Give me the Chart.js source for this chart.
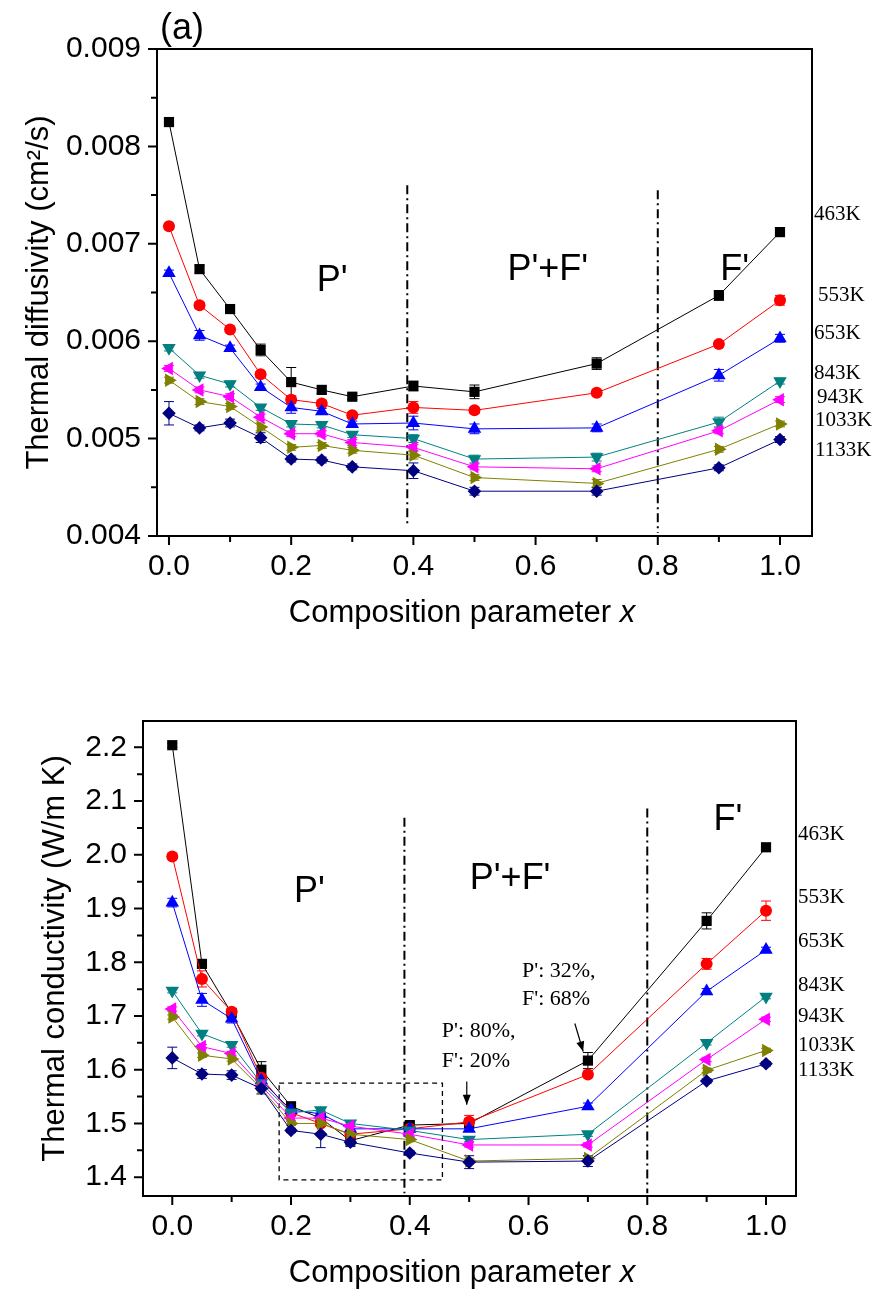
<!DOCTYPE html>
<html><head><meta charset="utf-8">
<script src="https://cdn.jsdelivr.net/npm/chart.js@4.4.0/dist/chart.umd.min.js"></script>
<style>
html,body{margin:0;padding:0;background:#fff;width:877px;height:1304px;overflow:hidden}
#wa{position:absolute;left:0;top:0;width:877px;height:660px}
#wb{position:absolute;left:0;top:660px;width:877px;height:644px}
canvas{display:block}
</style></head><body>
<div id="wa"><canvas id="ca"></canvas></div>
<div id="wb"><canvas id="cb"></canvas></div>
<script>
// ---------- data ----------
const compositionX = [0, 0.05, 0.1, 0.15, 0.2, 0.25, 0.3, 0.4, 0.5, 0.7, 0.9, 1.0];
const temperatures = ['463K', '553K', '653K', '843K', '943K', '1033K', '1133K'];

// (a) thermal diffusivity, cm^2/s
const diff463 = [0.00825, 0.00674, 0.00633, 0.00591, 0.00558, 0.00550, 0.00543, 0.00554, 0.00548, 0.00577, 0.00647, 0.00712];
const diff553 = [0.00718, 0.00637, 0.00612, 0.00566, 0.00540, 0.00536, 0.00524, 0.00532, 0.00529, 0.00547, 0.00597, 0.00642];
const diff653 = [0.00670, 0.00606, 0.00593, 0.00553, 0.00532, 0.00528, 0.00515, 0.00516, 0.00510, 0.00511, 0.00565, 0.00603];
const diff843 = [0.00593, 0.00565, 0.00556, 0.00532, 0.00515, 0.00514, 0.00504, 0.00500, 0.00479, 0.00481, 0.00517, 0.00559];
const diff943 = [0.00572, 0.00550, 0.00543, 0.00522, 0.00505, 0.00505, 0.00496, 0.00491, 0.00471, 0.00469, 0.00508, 0.00540];
const diff1033 = [0.00560, 0.00538, 0.00533, 0.00512, 0.00491, 0.00493, 0.00488, 0.00483, 0.00460, 0.00454, 0.00489, 0.00515];
const diff1133 = [0.00526, 0.00511, 0.00516, 0.00501, 0.00479, 0.00478, 0.00471, 0.00467, 0.00446, 0.00446, 0.00470, 0.00499];
const diffErr463 = [0.00003, 0.00004, 0.00004, 0.00006, 0.00015, 0.00004, 0.00003, 0.00005, 0.00007, 0.00006, 0.00005, 0.00004];
const diffErr553 = [0.00003, 0.00003, 0.00003, 0.00003, 0.00004, 0.00003, 0.00003, 0.00006, 0.00003, 0.00003, 0.00003, 0.00005];
const diffErr653 = [0.00003, 0.00005, 0.00003, 0.00003, 0.00006, 0.00003, 0.00003, 0.00007, 0.00005, 0.00004, 0.00006, 0.00004];
const diffErr843 = [0.00003, 0.00003, 0.00003, 0.00003, 0.00003, 0.00003, 0.00003, 0.00004, 0.00004, 0.00004, 0.00005, 0.00003];
const diffErr943 = [0.00003, 0.00003, 0.00003, 0.00003, 0.00003, 0.00003, 0.00003, 0.00003, 0.00003, 0.00003, 0.00003, 0.00003];
const diffErr1033 = [0.00003, 0.00003, 0.00003, 0.00004, 0.00003, 0.00003, 0.00003, 0.00004, 0.00003, 0.00004, 0.00003, 0.00003];
const diffErr1133 = [0.00012, 0.00003, 0.00004, 0.00005, 0.00003, 0.00003, 0.00003, 0.00008, 0.00004, 0.00004, 0.00003, 0.00003];

// (b) thermal conductivity, W/m K
const cond463 = [2.204, 1.797, 1.705, 1.600, 1.532, 1.510, 1.468, 1.497, 1.500, 1.617, 1.877, 2.014];
const cond553 = [1.997, 1.769, 1.708, 1.585, 1.520, 1.500, 1.480, 1.490, 1.503, 1.591, 1.797, 1.896];
const cond653 = [1.911, 1.730, 1.695, 1.580, 1.525, 1.518, 1.490, 1.490, 1.490, 1.532, 1.746, 1.823];
const cond843 = [1.747, 1.667, 1.646, 1.575, 1.520, 1.525, 1.500, 1.487, 1.470, 1.480, 1.650, 1.736];
const cond943 = [1.713, 1.643, 1.630, 1.570, 1.510, 1.510, 1.495, 1.480, 1.460, 1.460, 1.619, 1.694];
const cond1033 = [1.698, 1.627, 1.620, 1.565, 1.500, 1.500, 1.480, 1.470, 1.430, 1.435, 1.599, 1.636];
const cond1133 = [1.622, 1.592, 1.590, 1.565, 1.487, 1.480, 1.465, 1.445, 1.428, 1.430, 1.579, 1.611];
const condErr463 = [0.004, 0.006, 0.005, 0.015, 0.006, 0.005, 0.005, 0.006, 0.006, 0.015, 0.015, 0.005];
const condErr553 = [0.004, 0.015, 0.005, 0.005, 0.005, 0.005, 0.005, 0.005, 0.012, 0.005, 0.010, 0.018];
const condErr653 = [0.008, 0.012, 0.008, 0.005, 0.005, 0.005, 0.005, 0.005, 0.005, 0.006, 0.005, 0.005];
const condErr843 = [0.004, 0.004, 0.004, 0.004, 0.004, 0.004, 0.004, 0.004, 0.004, 0.004, 0.004, 0.004];
const condErr943 = [0.004, 0.004, 0.004, 0.004, 0.004, 0.004, 0.004, 0.004, 0.004, 0.004, 0.004, 0.004];
const condErr1033 = [0.004, 0.004, 0.004, 0.004, 0.004, 0.004, 0.004, 0.004, 0.004, 0.004, 0.004, 0.004];
const condErr1133 = [0.020, 0.008, 0.008, 0.010, 0.004, 0.025, 0.008, 0.004, 0.012, 0.010, 0.004, 0.004];

// tick values
const xTickValues = [0, 0.1, 0.2, 0.3, 0.4, 0.5, 0.6, 0.7, 0.8, 0.9, 1.0];
const diffTickValues = [0.004, 0.0045, 0.005, 0.0055, 0.006, 0.0065, 0.007, 0.0075, 0.008, 0.0085, 0.009];
const condTickValues = [1.4, 1.45, 1.5, 1.55, 1.6, 1.65, 1.7, 1.75, 1.8, 1.85, 1.9, 1.95, 2.0, 2.05, 2.1, 2.15, 2.2];

// right-side temperature label levels
const diffLabelLevels = [0.00730, 0.00647, 0.00608, 0.00567, 0.00542, 0.00519, 0.00488];
const condLabelLevels = [2.038, 1.921, 1.839, 1.756, 1.699, 1.645, 1.599];

// phase boundaries
const boundaryX = [0.39, 0.80];

// ---------- styles ----------
const seriesColors = ['#000000', '#ff0000', '#0000ff', '#008080', '#ff00ff', '#808000', '#000080'];
const pointStyles = ['rect', 'circle', 'triangle', 'triangle', 'triangle', 'triangle', 'rectRot'];
const pointRots = [0, 0, 0, 180, 270, 90, 0];
const pointRadii = [7.2, 6, 7.8, 7.8, 7.8, 7.8, 6.8];
const SANS = "'Liberation Sans', Arial, sans-serif";
const SERIF = "'Liberation Serif', 'Times New Roman', serif";

const decorConfigs = {};

function makeDatasets(valueArrays, errArrays) {
  return valueArrays.map((vals, i) => ({
    label: temperatures[i],
    data: vals.map((v, j) => ({x: compositionX[j], y: v})),
    errors: errArrays[i],
    borderColor: seriesColors[i],
    backgroundColor: seriesColors[i],
    borderWidth: 1,
    pointStyle: pointStyles[i],
    rotation: pointRots[i],
    pointRadius: pointRadii[i],
    pointBorderWidth: 0,
    pointBackgroundColor: seriesColors[i],
    pointBorderColor: seriesColors[i],
    tension: 0,
    order: 7 - i
  }));
}

const decorPlugin = {
  id: 'decor',
  beforeDatasetsDraw(chart) {
    const o = decorConfigs[chart.canvas.id];
    const ctx = chart.ctx, xs = chart.scales.x, ys = chart.scales.y;
    ctx.save();
    ctx.strokeStyle = '#000'; ctx.lineWidth = 2;
    ctx.setLineDash([9, 4, 2, 4]);
    o.boundaries.forEach(b => {
      const px = xs.getPixelForValue(b.x);
      ctx.beginPath();
      ctx.moveTo(px, ys.getPixelForValue(b.top));
      ctx.lineTo(px, ys.getPixelForValue(b.bottom));
      ctx.stroke();
    });
    if (o.box) {
      ctx.lineWidth = 1.3; ctx.setLineDash([5, 4]);
      const x1 = xs.getPixelForValue(o.box[0]), x2 = xs.getPixelForValue(o.box[1]);
      const y1 = ys.getPixelForValue(o.box[2]), y2 = ys.getPixelForValue(o.box[3]);
      ctx.strokeRect(x1, y2, x2 - x1, y1 - y2);
    }
    ctx.setLineDash([]);
    chart.data.datasets.forEach(ds => {
      ctx.strokeStyle = ds.borderColor; ctx.lineWidth = 1;
      ds.data.forEach((p, j) => {
        const e = ds.errors[j];
        const px = xs.getPixelForValue(p.x);
        const yt = ys.getPixelForValue(p.y + e), yb = ys.getPixelForValue(p.y - e);
        ctx.beginPath();
        ctx.moveTo(px, yt); ctx.lineTo(px, yb);
        ctx.moveTo(px - 5, yt); ctx.lineTo(px + 5, yt);
        ctx.moveTo(px - 5, yb); ctx.lineTo(px + 5, yb);
        ctx.stroke();
      });
    });
    ctx.restore();
  },
  afterDraw(chart) {
    const o = decorConfigs[chart.canvas.id];
    const ctx = chart.ctx, xs = chart.scales.x, ys = chart.scales.y, a = chart.chartArea;
    ctx.save();
    ctx.strokeStyle = '#000'; ctx.lineWidth = 2;
    ctx.strokeRect(a.left, a.top, a.right - a.left, a.bottom - a.top);
    ctx.beginPath();
    xs.ticks.forEach(t => {
      const px = xs.getPixelForValue(t.value);
      const major = Math.round(t.value * 10) % 2 === 0;
      ctx.moveTo(px, a.bottom); ctx.lineTo(px, a.bottom + (major ? 9 : 6));
    });
    ys.ticks.forEach(t => {
      const py = ys.getPixelForValue(t.value);
      const major = o.isMajorY(t.value);
      ctx.moveTo(a.left, py); ctx.lineTo(a.left - (major ? 9 : 6), py);
    });
    ctx.stroke();
    ctx.fillStyle = '#000'; ctx.textBaseline = 'middle';
    const f1 = '31px ' + SANS, f2 = 'italic 31px ' + SANS;
    ctx.font = f1; const w1 = ctx.measureText('Composition parameter ').width;
    ctx.font = f2; const w2 = ctx.measureText('x').width;
    const cx = o.xTitleCenter - (w1 + w2) / 2;
    ctx.font = f1; ctx.textAlign = 'left';
    ctx.fillText('Composition parameter ', cx, a.bottom + o.xTitleOffset);
    ctx.font = f2; ctx.fillText('x', cx + w1, a.bottom + o.xTitleOffset);
    ctx.font = '36px ' + SANS; ctx.textBaseline = 'alphabetic';
    ctx.fillText(o.panel, o.panelPos[0], o.panelPos[1]);
    ctx.font = '36px ' + SANS; ctx.textAlign = 'center'; ctx.textBaseline = 'middle';
    o.regions.forEach(r => ctx.fillText(r.text, xs.getPixelForValue(r.x), ys.getPixelForValue(r.y)));
    ctx.font = '21px ' + SERIF; ctx.textAlign = 'left';
    o.tempLevels.forEach((v, i) => ctx.fillText(temperatures[i], a.right + o.tempDx[i], ys.getPixelForValue(v)));
    ctx.font = '22px ' + SERIF;
    (o.notes || []).forEach(n => ctx.fillText(n.text, xs.getPixelForValue(n.x), ys.getPixelForValue(n.y)));
    (o.arrows || []).forEach(ar => {
      const x1 = xs.getPixelForValue(ar[0]), y1 = ys.getPixelForValue(ar[1]);
      const x2 = xs.getPixelForValue(ar[2]), y2 = ys.getPixelForValue(ar[3]);
      ctx.strokeStyle = '#000'; ctx.lineWidth = 1.2;
      ctx.beginPath(); ctx.moveTo(x1, y1); ctx.lineTo(x2, y2); ctx.stroke();
      const ang = Math.atan2(y2 - y1, x2 - x1);
      ctx.beginPath();
      ctx.moveTo(x2, y2);
      ctx.lineTo(x2 - 10 * Math.cos(ang) + 4 * Math.sin(ang), y2 - 10 * Math.sin(ang) - 4 * Math.cos(ang));
      ctx.lineTo(x2 - 10 * Math.cos(ang) - 4 * Math.sin(ang), y2 - 10 * Math.sin(ang) + 4 * Math.cos(ang));
      ctx.closePath(); ctx.fill();
    });
    ctx.restore();
  }
};

function makeChart(canvasId, cfg) {
  decorConfigs[canvasId] = cfg.decor;
  return new Chart(document.getElementById(canvasId), {
    type: 'line',
    data: {datasets: makeDatasets(cfg.values, cfg.errors)},
    plugins: [decorPlugin],
    options: {
      responsive: true, maintainAspectRatio: false, animation: false, devicePixelRatio: 1,
      layout: {padding: {left: 0, right: cfg.padRight, top: cfg.padTop, bottom: 0}},
      plugins: {legend: {display: false}, tooltip: {enabled: false}},
      scales: {
        x: {
          type: 'linear', min: cfg.xMin, max: cfg.xMax,
          afterBuildTicks: s => { s.ticks = xTickValues.map(v => ({value: v})); },
          afterFit: s => { s.height = cfg.xHeight; },
          grid: {display: true, drawOnChartArea: false, color: 'rgba(0,0,0,0)', tickLength: 9},
          border: {display: false},
          ticks: {
            autoSkip: false, maxRotation: 0, padding: 4, color: '#000',
            font: {family: SANS, size: 30},
            callback: v => (Math.round(v * 10) % 2 === 0 ? v.toFixed(1) : '')
          }
        },
        y: {
          type: 'linear', min: cfg.yMin, max: cfg.yMax,
          afterBuildTicks: s => { s.ticks = cfg.yTicks.map(v => ({value: v})); },
          afterFit: s => { s.width = cfg.yWidth; },
          grid: {display: true, drawOnChartArea: false, color: 'rgba(0,0,0,0)', tickLength: 9},
          border: {display: false},
          title: {display: true, text: cfg.yTitle, color: '#000', font: {family: SANS, size: 31}, padding: {top: cfg.yTitlePad, bottom: 0}},
          ticks: {
            autoSkip: false, padding: 7, color: '#000',
            font: {family: SANS, size: 30},
            callback: v => (cfg.decor.isMajorY(v) ? cfg.yFmt(v) : '')
          }
        }
      }
    }
  });
}

makeChart('ca', {
  values: [diff463, diff553, diff653, diff843, diff943, diff1033, diff1133],
  errors: [diffErr463, diffErr553, diffErr653, diffErr843, diffErr943, diffErr1033, diffErr1133],
  padRight: 65, padTop: 49, xHeight: 124, yWidth: 157, yTitlePad: 21,
  xMin: -0.0196, xMax: 1.0524, yMin: 0.004, yMax: 0.009, yTicks: diffTickValues,
  yTitle: 'Thermal diffusivity (cm\u00B2/s)', yFmt: v => v.toFixed(3),
  decor: {
    isMajorY: v => Math.abs(Math.round(v * 1000) - v * 1000) < 1e-6,
    boundaries: [{x: boundaryX[0], top: 0.00760, bottom: 0.00409}, {x: boundaryX[1], top: 0.00755, bottom: 0.00403}],
    xTitleOffset: 77, xTitleCenter: 462,
    panel: '(a)', panelPos: [160, 39],
    regions: [{text: "P'", x: 0.267, y: 0.00662}, {text: "P'+F'", x: 0.62, y: 0.00673}, {text: "F'", x: 0.926, y: 0.00673}],
    tempLevels: diffLabelLevels, tempDx: [2, 6, 2, 2, 5, 3, 3]
  }
});

makeChart('cb', {
  values: [cond463, cond553, cond653, cond843, cond943, cond1033, cond1133],
  errors: [condErr463, condErr553, condErr653, condErr843, condErr943, condErr1033, condErr1133],
  padRight: 81, padTop: 61, xHeight: 108, yWidth: 143, yTitlePad: 37,
  xMin: -0.0493, xMax: 1.0505, yMin: 1.365, yMax: 2.249, yTicks: condTickValues,
  yTitle: 'Thermal conductivity (W/m K)', yFmt: v => v.toFixed(1),
  decor: {
    isMajorY: v => Math.abs(Math.round(v * 10) - v * 10) < 1e-6,
    boundaries: [{x: boundaryX[0] + 0.001, top: 2.069, bottom: 1.37}, {x: boundaryX[1], top: 2.086, bottom: 1.37}],
    box: [0.18, 0.455, 1.395, 1.575],
    xTitleOffset: 77, xTitleCenter: 462,
    panel: '(b)', panelPos: [140, 714],
    regions: [{text: "P'", x: 0.231, y: 1.930}, {text: "P'+F'", x: 0.569, y: 1.954}, {text: "F'", x: 0.936, y: 2.064}],
    tempLevels: condLabelLevels, tempDx: [2, 2, 2, 2, 2, 2, 2],
    notes: [{text: "P': 80%,", x: 0.454, y: 1.671}, {text: "F': 20%", x: 0.454, y: 1.616},
            {text: "P': 32%,", x: 0.589, y: 1.783}, {text: "F': 68%", x: 0.589, y: 1.731}],
    arrows: [[0.496, 1.578, 0.496, 1.535], [0.678, 1.686, 0.692, 1.634]]
  }
});
</script>
</body></html>
